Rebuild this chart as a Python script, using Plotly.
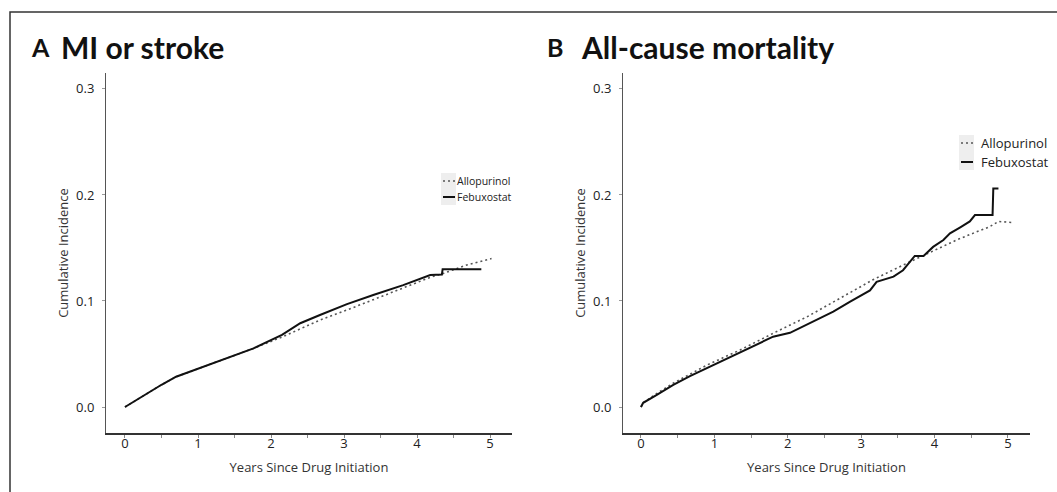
import plotly.graph_objects as go

W, H = 1057, 492

# ---------------- data ----------------
mi_allo_years = [0, 0.25, 0.5, 0.7, 1.0, 1.5, 1.76, 2.15, 2.4, 2.67, 3.04, 3.4, 3.81, 4.18, 4.36, 4.68, 5.02]
mi_allo_ci    = [0, 0.0105, 0.021, 0.0285, 0.036, 0.0485, 0.0553, 0.066, 0.074, 0.082, 0.0915, 0.101, 0.112, 0.1223, 0.126, 0.134, 0.140]

mi_febu_years = [0, 0.25, 0.5, 0.7, 1.0, 1.5, 1.76, 2.15, 2.4, 2.67, 3.04, 3.4, 3.81, 4.18, 4.34, 4.35, 4.88]
mi_febu_ci    = [0, 0.0107, 0.021, 0.0286, 0.036, 0.0486, 0.0553, 0.068, 0.079, 0.0868, 0.097, 0.1057, 0.115, 0.1245, 0.125, 0.130, 0.130]

ac_allo_years = [0, 0.03, 0.21, 0.44, 0.9, 1.35, 1.8, 2.26, 2.71, 3.16, 3.62, 3.85, 4.07, 4.3, 4.53, 4.75, 4.87, 5.05]
ac_allo_ci    = [0, 0.004, 0.0125, 0.0225, 0.0396, 0.0538, 0.0695, 0.085, 0.1025, 0.120, 0.1355, 0.143, 0.150, 0.1575, 0.164, 0.170, 0.175, 0.174]

ac_febu_years = [0, 0.03, 0.21, 0.44, 0.667, 0.985, 1.35, 1.8, 2.03, 2.35, 2.62, 2.85, 3.12, 3.21, 3.44, 3.57, 3.73, 3.85, 3.98, 4.12, 4.21, 4.35, 4.48, 4.55, 4.79, 4.80, 4.87]
ac_febu_ci    = [0, 0.004, 0.0113, 0.0208, 0.0292, 0.0396, 0.0512, 0.0663, 0.070, 0.0805, 0.090, 0.0993, 0.110, 0.118, 0.123, 0.129, 0.1425, 0.1425, 0.151, 0.1575, 0.1638, 0.1695, 0.175, 0.181, 0.181, 0.206, 0.206]

series_names = ["Allopurinol", "Febuxostat"]
panel_letters = ["A", "B"]
panel_titles = ["MI or stroke", "All-cause mortality"]
x_title = "Years Since Drug Initiation"
y_title = "Cumulative Incidence"
x_ticks = [0, 1, 2, 3, 4, 5]
y_ticks = [0.0, 0.1, 0.2, 0.3]
y_tick_labels = ["0.0", "0.1", "0.2", "0.3"]

# ---------------- helpers ----------------
def px_x(p):
    return p / W

def px_y(p):
    return 1 - p / H

FONT = "Open Sans"
DOT = "2px,3px"

fig = go.Figure()

allo_style = dict(color="#555555", width=1.6, dash=DOT)
febu_style = dict(color="#111111", width=2)

fig.add_trace(go.Scatter(x=mi_allo_years, y=mi_allo_ci, mode="lines", name=series_names[0],
                         line=allo_style, xaxis="x", yaxis="y", showlegend=False))
fig.add_trace(go.Scatter(x=mi_febu_years, y=mi_febu_ci, mode="lines", name=series_names[1],
                         line=febu_style, xaxis="x", yaxis="y", showlegend=False))
fig.add_trace(go.Scatter(x=ac_allo_years, y=ac_allo_ci, mode="lines", name=series_names[0],
                         line=allo_style, xaxis="x2", yaxis="y2", showlegend=False))
fig.add_trace(go.Scatter(x=ac_febu_years, y=ac_febu_ci, mode="lines", name=series_names[1],
                         line=febu_style, xaxis="x2", yaxis="y2", showlegend=False))

ydom = [px_y(433), px_y(73)]

def xaxis_cfg(dom, rng):
    return dict(
        domain=dom, range=rng, tickvals=x_ticks, ticktext=[str(t) for t in x_ticks],
        showgrid=False, zeroline=False, showline=True, linecolor="#333333", linewidth=2,
        ticks="outside", ticklen=3, tickcolor="#888888", tickwidth=1, ticklabelstandoff=-6,
        minor=dict(dtick=0.5, tick0=0, ticks="outside", ticklen=3, tickcolor="#888888", showgrid=False),
        tickfont=dict(family=FONT, size=13, color="#222222"),
        title=dict(text=x_title, font=dict(family=FONT, size=13, color="#333333"), standoff=12),
        fixedrange=True,
    )

def yaxis_cfg(anchor):
    return dict(
        domain=ydom, range=[-0.0245, 0.315], tickvals=y_ticks, ticktext=y_tick_labels,
        showgrid=False, zeroline=False, showline=True, linecolor="#555555", linewidth=1,
        ticks="outside", ticklen=3, tickcolor="#999999", tickwidth=1, ticklabelstandoff=5,
        tickfont=dict(family=FONT, size=13, color="#222222"), anchor=anchor,
        title=dict(text=y_title, font=dict(family=FONT, size=13, color="#333333"), standoff=4),
        fixedrange=True,
    )

fig.update_layout(
    width=W, height=H, margin=dict(l=0, r=0, t=0, b=0),
    paper_bgcolor="white", plot_bgcolor="white", showlegend=False,
    xaxis=xaxis_cfg([px_x(106), px_x(512)], [-0.26, 5.30]) | dict(anchor="y"),
    yaxis=yaxis_cfg("x"),
    xaxis2=xaxis_cfg([px_x(623), px_x(1030)], [-0.245, 5.30]) | dict(anchor="y2"),
    yaxis2=yaxis_cfg("x2"),
)

shapes = []
annotations = []

# outer frame (extends past right and bottom edges)
shapes.append(dict(type="rect", xref="paper", yref="paper",
                   x0=px_x(10), x1=px_x(1065), y0=px_y(500), y1=px_y(12),
                   line=dict(color="#333333", width=1.5), fillcolor="rgba(0,0,0,0)", layer="above"))

# panel titles
for letter, title, lx, tx in zip(panel_letters, panel_titles, [29, 545], [59, 579]):
    annotations.append(dict(text=f"<b>{letter}</b>", x=px_x(lx), y=px_y(47), xref="paper", yref="paper",
                            xanchor="left", yanchor="middle", showarrow=False,
                            font=dict(family="Lato", size=25, color="#111111")))
    annotations.append(dict(text=f"<b>{title}</b>", x=px_x(tx), y=px_y(47), xref="paper", yref="paper",
                            xanchor="left", yanchor="middle", showarrow=False,
                            font=dict(family="Lato", size=30, color="#111111")))

# manual legends (ggplot-style keys): box x, first row y, row gap, text x, font size
for (bx, by, gap, tx, fs) in [(441, 181, 16, 455, 10.5), (959, 143, 19, 979, 13)]:
    shapes.append(dict(type="rect", xref="paper", yref="paper",
                       x0=px_x(bx), x1=px_x(bx + 15), y0=px_y(by + gap + 8), y1=px_y(by - 8),
                       line=dict(width=0), fillcolor="#eeeeee", layer="below"))
    for i, (name, style) in enumerate(zip(series_names, [allo_style, febu_style])):
        yy = by + i * gap
        shapes.append(dict(type="line", xref="paper", yref="paper",
                           x0=px_x(bx + 2), x1=px_x(bx + 14), y0=px_y(yy), y1=px_y(yy),
                           line=dict(color=style["color"], width=style["width"],
                                     dash=style.get("dash", "solid"))))
        annotations.append(dict(text=name, x=px_x(tx), y=px_y(yy), xref="paper", yref="paper",
                                xanchor="left", yanchor="middle", showarrow=False,
                                font=dict(family=FONT, size=fs, color="#222222")))

fig.update_layout(shapes=shapes, annotations=annotations)
fig.write_html("out.html", config={"displayModeBar": False},
               post_script="document.body.style.margin='0px';")
